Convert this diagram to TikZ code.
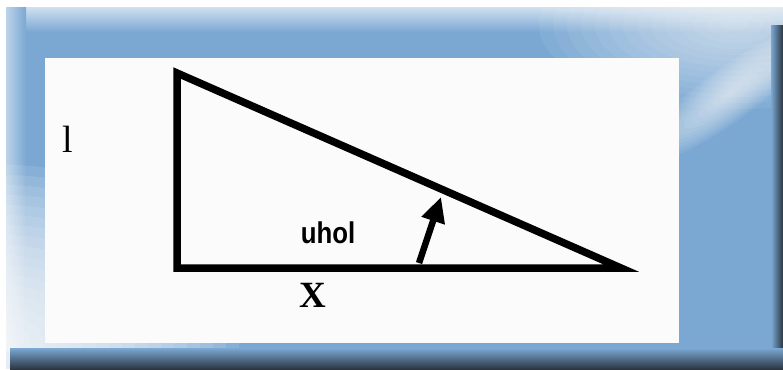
\documentclass[tikz,border=0pt]{standalone}
\usepackage{fontspec}
\setmainfont{Liberation Serif}
\newfontfamily\helv{Liberation Sans}
\usetikzlibrary{arrows.meta}
\definecolor{frameblue}{RGB}{123,168,211}
\definecolor{lightblue}{RGB}{205,222,238}
\definecolor{edgedark}{RGB}{44,54,66}
\definecolor{panel}{RGB}{251,251,251}
\tikzset{
  leg/.style={line width=7.5pt, line join=miter, miter limit=10},
  pointer/.style={line width=6.5pt, -{Triangle[length=25pt,width=23pt]}},
  lbl/.style={inner sep=0pt, text=black},
  glowlayer/.style={fill=white, opacity=#1}
}
\begin{document}
\begin{tikzpicture}[x=1pt,y=-1pt]
\useasboundingbox (0,0) rectangle (783,369);
\fill[white] (0,0) rectangle (783,369);
% frame
\fill[frameblue] (6,8) rectangle (783,369);
\begin{scope}
\clip (6,8) rectangle (783,369);
\shade[top color=lightblue, bottom color=frameblue] (6,8) rectangle (783,32);
\shade[left color=lightblue!80!frameblue, right color=frameblue] (6,8) rectangle (26,350);
% lower-left glow
\foreach \k in {1,...,18}{
  \fill[glowlayer=0.1] (5,345) ellipse [x radius={13*\k}, y radius={10*\k}];
}
% upper-right light area
\foreach \k in {1,...,14}{
  \fill[glowlayer=0.06] (735,25) ellipse [x radius={14*\k}, y radius={6*\k}];
}
% upper-right streak
\foreach \k in {1,...,12}{
  \fill[glowlayer=0.07, rotate around={36:(728,95)}] (728,95) ellipse [x radius={9*\k}, y radius={2.2*\k}];
}
\end{scope}
\shade[left color=frameblue, right color=edgedark] (771,26) rectangle (783,369);
\shade[top color=frameblue, bottom color=edgedark] (10,348) rectangle (783,369);
% white panel
\fill[panel] (45,58) rectangle (679,343);
% triangle
\coordinate (A) at (177,73);
\coordinate (B) at (177,268);
\coordinate (C) at (621,268);
\draw[leg] (A) -- (B) -- (C) -- cycle;
% arrow
\coordinate (P) at (419,263);
\coordinate (Q) at (441,197);
\draw[pointer] (P) -- (Q);
% labels
\node[lbl, font=\fontsize{38}{38}\selectfont] (l) at (68,139) {l};
\node[lbl, font=\helv\bfseries\fontsize{30}{30}\selectfont, xscale=0.86] (u) at (328,233) {uhol};
\node[lbl, font=\bfseries\fontsize{37}{37}\selectfont] (x) at (313,295) {X};
\end{tikzpicture}
\end{document}
